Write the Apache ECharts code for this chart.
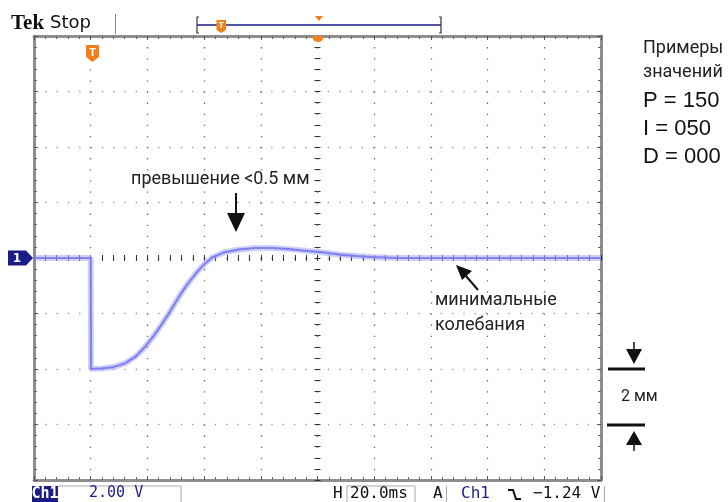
<!DOCTYPE html>
<html>
<head>
<meta charset="utf-8">
<script src="https://cdn.jsdelivr.net/npm/echarts@6/dist/echarts.min.js"></script>
<style>
html,body{margin:0;padding:0;background:#fff;}
#c{width:728px;height:502px;}
</style>
</head>
<body>
<div id="c"></div>
<script>
// ---- data (time in ms, 20 ms/div; voltage in V, 2 V/div) ----
const timeMs = [-100, -80, -79.9, -76, -72, -68, -64, -61, -58, -55, -52, -49, -46, -43, -40, -37, -33, -28, -22, -16, -10, -4, 2, 8, 14, 20, 28, 60, 100];
const voltV  = [0, 0, -4.0, -3.98, -3.93, -3.8, -3.54, -3.22, -2.84, -2.4, -1.93, -1.42, -0.96, -0.57, -0.23, 0.03, 0.2, 0.3, 0.36, 0.36, 0.32, 0.26, 0.2, 0.12, 0.07, 0.03, 0.0, 0.0, 0.0];
const timeRange = [-100, 100];   // 10 divisions
const voltRange = [-8, 8];       // 8 divisions
const timePerDiv = 20;
const voltPerDiv = 2;
const statusTexts = ['Ch1', '2.00 V', 'H', '20.0ms', 'A', 'Ch1', '\u22121.24 V'];
const sideTitle = ['Примеры', 'значений'];
const pidValues = ['P = 150', 'I = 050', 'D = 000'];
const notes = ['превышение <0.5 мм', 'минимальные', 'колебания', '2 мм'];

const pts = timeMs.map((t, i) => [t, voltV[i]]);

const G = {left: 34, top: 36, width: 567, height: 444};
const borderCol = '#8e8e8e';
const navy = '#1c1c86';
const orange = '#f0801e';
const ink = '#222';
const mono = '"DejaVu Sans Mono", "Liberation Mono", monospace';
const noteFont = '18px Roboto, sans-serif';

function borderAxis(extra) {
  return Object.assign({
    type: 'value',
    axisLine: {show: true, onZero: false, lineStyle: {color: borderCol, width: 3}},
    axisTick: {show: true, inside: true, length: 4, lineStyle: {color: '#555', width: 1}},
    minorTick: {show: true, splitNumber: 5, length: 3, lineStyle: {color: '#666', width: 1}},
    axisLabel: {show: false},
    splitLine: {show: false}
  }, extra);
}
function centerAxis(extra) {
  return Object.assign({
    type: 'value',
    axisLine: {show: false, onZero: false},
    axisTick: {show: true, inside: true, length: 3, lineStyle: {color: '#333', width: 1}},
    minorTick: {show: true, splitNumber: 5, length: 3, lineStyle: {color: '#333', width: 1}},
    axisLabel: {show: false},
    splitLine: {show: false}
  }, extra);
}

const chart = echarts.init(document.getElementById('c'), null, {renderer: 'canvas'});

const option = {
  animation: false,
  backgroundColor: '#fff',
  grid: [
    Object.assign({}, G),
    Object.assign({}, G)
  ],
  xAxis: [
    borderAxis({gridIndex: 0, position: 'bottom', min: timeRange[0], max: timeRange[1], interval: timePerDiv,
      splitLine: {show: true, lineStyle: {color: '#666', width: 1.3, type: [1.3, 9.8]}}}),
    borderAxis({gridIndex: 0, position: 'top', min: timeRange[0], max: timeRange[1], interval: timePerDiv}),
    centerAxis({gridIndex: 1, position: 'bottom', offset: -G.height / 2, min: timeRange[0], max: timeRange[1], interval: timePerDiv}),
    centerAxis({gridIndex: 1, position: 'top', offset: -G.height / 2, min: timeRange[0], max: timeRange[1], interval: timePerDiv})
  ],
  yAxis: [
    borderAxis({gridIndex: 0, position: 'left', min: voltRange[0], max: voltRange[1], interval: voltPerDiv,
      splitLine: {show: true, lineStyle: {color: '#9a9a9a', width: 1.3, type: [1.3, 10.0]}}}),
    borderAxis({gridIndex: 0, position: 'right', min: voltRange[0], max: voltRange[1], interval: voltPerDiv}),
    centerAxis({gridIndex: 1, position: 'left', offset: -G.width / 2, min: voltRange[0], max: voltRange[1], interval: voltPerDiv}),
    centerAxis({gridIndex: 1, position: 'right', offset: -G.width / 2, min: voltRange[0], max: voltRange[1], interval: voltPerDiv})
  ],
  series: [
    {
      type: 'line', xAxisIndex: 0, yAxisIndex: 0, data: pts, showSymbol: false, silent: true,
      lineStyle: {color: '#aaaaf7', width: 6, opacity: 0.55}, z: 3
    },
    {
      type: 'line', xAxisIndex: 0, yAxisIndex: 0, data: pts, showSymbol: false, silent: true,
      lineStyle: {color: '#7a7aee', width: 2.2, opacity: 0.9}, z: 4
    }
  ],
  graphic: [
    // top bar
    {type: 'text', left: 11, top: 13, style: {text: 'Tek', font: 'bold 21px "Liberation Serif", serif', fill: '#111'}},
    {type: 'text', left: 50, top: 14, style: {text: 'Stop', font: '18px "DejaVu Sans", sans-serif', fill: '#111'}},
    {type: 'line', shape: {x1: 115.5, y1: 14, x2: 115.5, y2: 34}, style: {stroke: '#888', lineWidth: 1}},
    {type: 'line', shape: {x1: 197, y1: 25, x2: 441, y2: 25}, style: {stroke: navy, lineWidth: 1.5}},
    {type: 'polyline', shape: {points: [[199, 17], [197, 17], [197, 33], [199, 33]]}, style: {stroke: '#333', lineWidth: 1.2, fill: null}},
    {type: 'polyline', shape: {points: [[439, 17], [441, 17], [441, 33], [439, 33]]}, style: {stroke: '#333', lineWidth: 1.2, fill: null}},
    {type: 'polygon', shape: {points: [[216.5, 20], [226, 20], [226, 30], [221.2, 33], [216.5, 30]]}, style: {fill: orange}},
    {type: 'text', x: 221.2, y: 26, style: {text: 'T', font: 'bold 9px sans-serif', fill: '#fff', align: 'center', verticalAlign: 'middle'}},
    {type: 'polygon', shape: {points: [[315, 16], [323, 16], [319, 21]]}, style: {fill: orange}},
    {type: 'sector', shape: {cx: 318, cy: 36, r: 6, startAngle: 0, endAngle: Math.PI, clockwise: true}, style: {fill: orange}, z: 100},
    // trigger marker on screen
    {type: 'polygon', shape: {points: [[86, 45], [99, 45], [99, 57], [92.5, 62], [86, 57]]}, style: {fill: orange}, z: 100},
    {type: 'text', x: 92.5, y: 53, style: {text: 'T', font: 'bold 11px sans-serif', fill: '#fff', align: 'center', verticalAlign: 'middle'}, z: 101},
    // channel 1 ground marker
    {type: 'polygon', shape: {points: [[8, 250.5], [26, 250.5], [33, 258], [26, 265.5], [8, 265.5]]}, style: {fill: navy}, z: 100},
    {type: 'text', x: 17, y: 258.5, style: {text: '1', font: 'bold 12px "DejaVu Sans", sans-serif', fill: '#fff', align: 'center', verticalAlign: 'middle'}, z: 101},
    // annotations
    {type: 'text', left: 131, top: 170, style: {text: notes[0], font: noteFont, fill: ink}},
    {type: 'line', shape: {x1: 236, y1: 193, x2: 236, y2: 215}, style: {stroke: '#111', lineWidth: 2}},
    {type: 'polygon', shape: {points: [[227, 213], [245, 213], [236, 232]]}, style: {fill: '#111'}},
    {type: 'text', left: 435, top: 291, style: {text: notes[1], font: noteFont, fill: ink}},
    {type: 'text', left: 435, top: 316, style: {text: notes[2], font: noteFont, fill: ink}},
    {type: 'line', shape: {x1: 478, y1: 290, x2: 466, y2: 276}, style: {stroke: '#111', lineWidth: 2}},
    {type: 'polygon', shape: {points: [[456, 265], [472, 271], [462, 280]]}, style: {fill: '#111'}},
    // side panel
    {type: 'text', left: 643, top: 39, style: {text: sideTitle[0], font: noteFont, fill: ink}},
    {type: 'text', left: 643, top: 63, style: {text: sideTitle[1], font: noteFont, fill: ink}},
    {type: 'text', left: 643, top: 90, style: {text: pidValues[0], font: '22px "Liberation Sans", Arial, sans-serif', fill: '#111'}},
    {type: 'text', left: 643, top: 118, style: {text: pidValues[1], font: '22px "Liberation Sans", Arial, sans-serif', fill: '#111'}},
    {type: 'text', left: 643, top: 146, style: {text: pidValues[2], font: '22px "Liberation Sans", Arial, sans-serif', fill: '#111'}},
    // 2 mm scale
    {type: 'line', shape: {x1: 634, y1: 342, x2: 634, y2: 352}, style: {stroke: '#111', lineWidth: 1.5}},
    {type: 'polygon', shape: {points: [[626, 349], [642, 349], [634, 364]]}, style: {fill: '#111'}},
    {type: 'line', shape: {x1: 608, y1: 369, x2: 645, y2: 369}, style: {stroke: '#111', lineWidth: 3}},
    {type: 'line', shape: {x1: 607, y1: 425, x2: 645, y2: 425}, style: {stroke: '#111', lineWidth: 3}},
    {type: 'polygon', shape: {points: [[626, 445], [642, 445], [634, 431]]}, style: {fill: '#111'}},
    {type: 'line', shape: {x1: 634, y1: 444, x2: 634, y2: 451}, style: {stroke: '#111', lineWidth: 1.5}},
    {type: 'text', left: 621, top: 389, style: {text: notes[3], font: '16px Roboto, sans-serif', fill: ink}},
    // status bar
    {type: 'rect', shape: {x: 32, y: 486, width: 26, height: 16}, style: {fill: navy}},
    {type: 'text', x: 45, y: 494.5, style: {text: statusTexts[0], font: 'bold 15px ' + mono, fill: '#fff', align: 'center', verticalAlign: 'middle'}},
    {type: 'polyline', shape: {points: [[58, 486], [181, 486], [181, 502]]}, style: {stroke: '#aaa', lineWidth: 1, fill: null}},
    {type: 'text', left: 89, top: 486, style: {text: statusTexts[1], font: '15px ' + mono, fill: navy}},
    {type: 'text', left: 333, top: 486, style: {text: statusTexts[2], font: '16px ' + mono, fill: '#111'}},
    {type: 'polyline', shape: {points: [[347, 502], [347, 486], [415, 486], [415, 502]]}, style: {stroke: '#aaa', lineWidth: 1, fill: null}},
    {type: 'text', left: 350, top: 486, style: {text: statusTexts[3], font: '16px ' + mono, fill: '#111'}},
    {type: 'text', left: 433, top: 486, style: {text: statusTexts[4], font: '16px ' + mono, fill: '#111'}},
    {type: 'line', shape: {x1: 446.5, y1: 486, x2: 446.5, y2: 502}, style: {stroke: '#aaa', lineWidth: 1}},
    {type: 'text', left: 461, top: 486, style: {text: statusTexts[5], font: '16px ' + mono, fill: navy}},
    {type: 'polyline', shape: {points: [[508, 490], [513, 490], [516, 499], [521, 499]]}, style: {stroke: '#111', lineWidth: 2, fill: null}},
    {type: 'text', left: 533, top: 486, style: {text: statusTexts[6], font: '16px ' + mono, fill: '#111'}},
    {type: 'line', shape: {x1: 604.5, y1: 486, x2: 604.5, y2: 502}, style: {stroke: '#aaa', lineWidth: 1}}
  ]
};
chart.setOption(option);
</script>
</body>
</html>
